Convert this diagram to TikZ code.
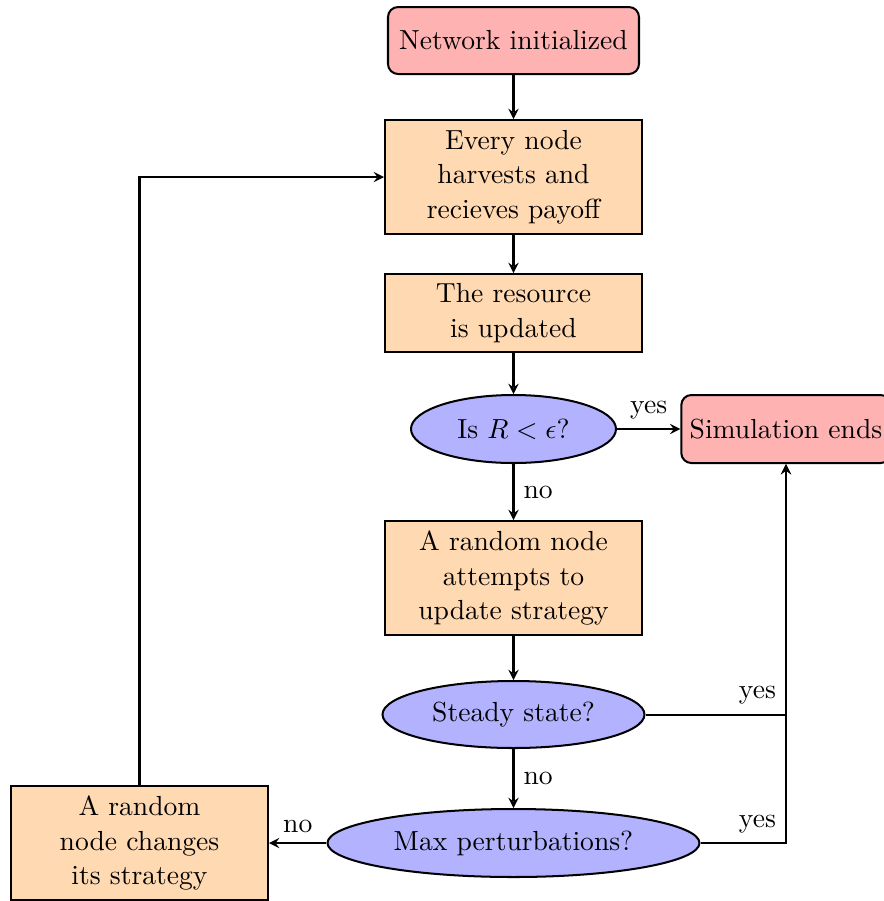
\documentclass[tikz,border=0pt]{standalone}
\usetikzlibrary{shapes.geometric,arrows}
\def\PX{0.3968pt}
\tikzset{
  base/.style={draw=black, thick, align=center, text=black},
  startbox/.style={base, rectangle, rounded corners=4pt, fill=red!30, minimum height=67*\PX},
  procbox/.style={base, rectangle, fill=orange!30, minimum width=257*\PX},
  decide/.style={base, ellipse, fill=blue!30, inner sep=1pt, minimum height=68*\PX},
  arr/.style={thick, ->, >=stealth},
  lbl/.style={inner sep=3.6pt}
}
\begin{document}
\begin{tikzpicture}[x=0.3968pt, y=-0.3968pt, font=\fontsize{10.95}{13.6}\selectfont]
\useasboundingbox (0,0) rectangle (884,901);

\node[startbox, minimum width=251*\PX] (net) at (513.5,40.5) {Network initialized};
\node[procbox, minimum height=114*\PX] (every) at (513.5,177) {Every node\\harvests and\\recieves payoff};
\node[procbox, minimum height=78*\PX] (res) at (513.5,313) {The resource\\is updated};
\node[decide, minimum width=205*\PX] (isr) at (513.5,429) {Is $R<\epsilon$?};
\node[startbox, minimum height=68*\PX] (sim) at (786,429) {Simulation ends};
\node[procbox, minimum height=114*\PX] (att) at (513.5,578) {A random node\\attempts to\\update strategy};
\node[decide, minimum width=262*\PX, minimum height=67*\PX] (steady) at (513.5,714.5) {Steady state?};
\node[decide, minimum width=372*\PX] (max) at (513.5,843) {Max perturbations?};
\node[procbox, minimum height=114*\PX] (chg) at (139.5,843) {A random\\node changes\\its strategy};

\draw[arr] (net) -- (every);
\draw[arr] (every) -- (res);
\draw[arr] (res) -- (isr);
\draw[arr] (isr) -- node[lbl, above] {yes} (sim);
\draw[arr] (isr) -- node[lbl, right] {no} (att);
\draw[arr] (att) -- (steady);
\draw[arr] (steady) -- node[lbl, right] {no} (max);
\draw[arr] (steady) -| node[lbl, pos=0.5, above left] {yes} (sim);
\draw[arr] (max) -| node[lbl, pos=0.5, above left] {yes} (sim);
\draw[arr] (max) -- node[lbl, above] {no} (chg);
\draw[arr] (chg) |- (every);
\end{tikzpicture}
\end{document}
